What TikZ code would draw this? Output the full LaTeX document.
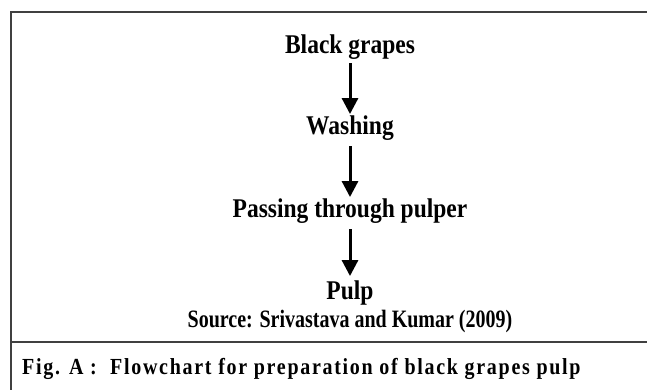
\documentclass[tikz,border=0pt]{standalone}
\usepackage{fontspec}
\setmainfont{Liberation Serif}
\usetikzlibrary{arrows.meta}
\newcommand{\tallt}[1]{\scalebox{1}[1.15]{#1}}
\newcommand{\tallsrc}[1]{\scalebox{1}[1.25]{#1}}
\tikzset{
  frameline/.style={draw=black!75, line width=1.2pt},
  stepnode/.style={anchor=base, inner sep=0pt, font=\fontsize{23.5}{28}\selectfont\bfseries},
  sourcenode/.style={anchor=base, inner sep=0pt, font=\fontsize{20}{24}\selectfont\bfseries},
  flowarrow/.style={line width=3pt, -{Triangle[width=16pt,length=16pt]}},
  captionnode/.style={anchor=base west, inner sep=0pt, font=\fontsize{20}{24}\selectfont\bfseries\addfontfeatures{LetterSpace=8.5}}
}
\begin{document}
\begin{tikzpicture}[x=1pt,y=-1pt]
\useasboundingbox (0,0) rectangle (647,390);
\draw[frameline] (11,390) -- (11,12) -- (647,12);
\draw[frameline] (11,342) -- (647,342);
\node[stepnode] (bg) at (350,54) {\tallt{Black grapes}};
\node[stepnode] (wa) at (350,135) {\tallt{Washing}};
\node[stepnode] (pa) at (350,217) {\tallt{Passing through pulper}};
\node[stepnode] (pu) at (350,299) {\tallt{Pulp}};
\node[sourcenode] (so) at (350,327) {\tallsrc{Source: Srivastava and Kumar (2009)}};
\node[captionnode] (ca) at (22,374) {\tallt{Fig. A :\ \ Flowchart for preparation of black grapes pulp}};
\draw[flowarrow] ([yshift=-3pt]bg.south) -- ([yshift=2pt]wa.north);
\draw[flowarrow] ([yshift=-5pt]wa.south) -- ([yshift=1pt]pa.north);
\draw[flowarrow] ([yshift=-6pt]pa.south) -- ([yshift=4pt]pu.north);
\end{tikzpicture}
\end{document}
